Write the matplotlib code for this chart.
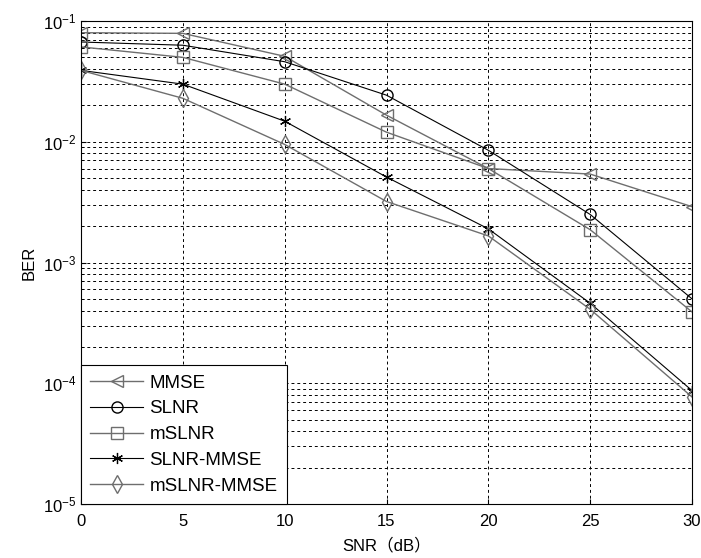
import matplotlib.pyplot as plt
import numpy as np

snr = [0, 5, 10, 15, 20, 25, 30]
ber_mmse = [0.080, 0.079, 0.051, 0.0166, 0.0060, 0.0054, 0.0029]
ber_slnr = [0.067, 0.063, 0.046, 0.0243, 0.0085, 0.0025, 0.00050]
ber_mslnr = [0.061, 0.050, 0.030, 0.0120, 0.0060, 0.00187, 0.00039]
ber_slnr_mmse = [0.039, 0.030, 0.0148, 0.0051, 0.0019, 0.00046, 0.000087]
ber_mslnr_mmse = [0.039, 0.0229, 0.0095, 0.0032, 0.00166, 0.00041, 0.000077]

plt.rcParams['font.family'] = ['Liberation Sans', 'Noto Sans CJK SC', 'DejaVu Sans']
plt.rcParams['mathtext.fontset'] = 'custom'
plt.rcParams['mathtext.rm'] = 'Liberation Sans'
plt.rcParams['mathtext.it'] = 'Liberation Sans'
plt.rcParams['mathtext.default'] = 'regular'

fig = plt.figure(figsize=(7.01, 5.58), dpi=100)
ax = fig.add_axes([81/701, 1-504/558, (692-81)/701, (504-21)/558])

gray = '#6e6e6e'
kw = dict(linewidth=1.0, markersize=9, markerfacecolor='none')
ax.semilogy(snr, ber_mmse, '-<', color=gray, label='MMSE', **kw)
ax.semilogy(snr, ber_slnr, '-o', color='black', label='SLNR', linewidth=0.8, markersize=8, markerfacecolor='none')
ax.semilogy(snr, ber_mslnr, '-s', color=gray, label='mSLNR', **kw)
ax.semilogy(snr, ber_slnr_mmse, '-', marker=(6, 2, 0), color='black', label='SLNR-MMSE',
            linewidth=0.8, markersize=8, markeredgewidth=0.9)
ax.semilogy(snr, ber_mslnr_mmse, '-d', color=gray, label='mSLNR-MMSE', **kw)

ax.set_xlim(0, 30)
ax.set_ylim(1e-5, 1e-1)
ax.set_xticks(snr)
ax.grid(True, which='major', axis='x', linestyle=(0, (3, 3)), color='black', linewidth=0.7)
ax.grid(True, which='both', axis='y', linestyle=(0, (3, 3)), color='black', linewidth=0.7)
ax.tick_params(which='both', direction='in', labelsize=12)
ax.tick_params(axis='x', pad=7)
ax.tick_params(which='minor', length=2)
for s in ax.spines.values():
    s.set_linewidth(0.8)

ax.set_xlabel('SNR（dB）', fontsize=12, labelpad=6)
ax.set_ylabel('BER', fontsize=12, labelpad=4)

leg = ax.legend(loc='lower left', fontsize=13.5, fancybox=False, framealpha=1,
                edgecolor='black', borderaxespad=0, handlelength=2.8,
                handletextpad=0.35, labelspacing=0.46, borderpad=0.5)
leg.get_frame().set_linewidth(0.8)

plt.savefig('out.png')
